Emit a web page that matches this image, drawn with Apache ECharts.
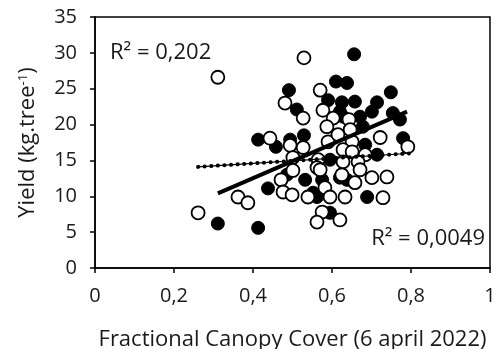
<!DOCTYPE html>
<html><head><meta charset="utf-8">
<script src="https://cdn.jsdelivr.net/npm/echarts@6/dist/echarts.min.js"></script>
<style>html,body{margin:0;padding:0;background:#fff}#c{width:498px;height:349px}</style>
</head><body><div id="c"></div>
<script>
// Filled circles (series 1) [fractional canopy cover, yield]
const filledPts = [
 [0.656,29.8],[0.610,26.0],[0.638,25.8],[0.491,24.8],[0.749,24.5],[0.590,23.4],[0.625,23.1],
 [0.658,23.2],[0.714,23.1],[0.511,22.1],[0.701,21.8],[0.754,21.6],[0.772,20.7],[0.628,21.1],
 [0.671,21.1],[0.678,19.7],[0.620,21.8],[0.529,18.5],[0.413,17.9],[0.458,16.9],[0.780,18.1],
 [0.714,15.8],[0.438,11.1],[0.532,12.3],[0.575,12.3],[0.562,9.9],[0.620,12.6],[0.595,7.7],
 [0.638,12.3],[0.689,9.9],[0.486,13.0],[0.311,6.2],[0.413,5.6],[0.552,10.5],[0.494,17.9],
 [0.633,16.5],[0.684,17.2],[0.595,15.1]
];
// Open circles (series 2)
const openPts = [
 [0.311,26.6],[0.529,29.3],[0.570,24.8],[0.481,23.0],[0.577,22.0],[0.527,20.9],[0.603,20.9],
 [0.643,20.7],[0.587,19.7],[0.646,19.3],[0.494,17.1],[0.527,16.8],[0.590,17.6],[0.615,18.6],
 [0.651,17.6],[0.722,18.2],[0.792,16.9],[0.628,16.5],[0.651,16.2],[0.684,15.8],[0.443,18.1],
 [0.565,15.1],[0.501,15.4],[0.666,14.8],[0.628,14.8],[0.501,13.6],[0.562,14.0],[0.471,12.3],
 [0.476,10.6],[0.499,10.2],[0.539,9.9],[0.582,11.2],[0.595,9.9],[0.575,7.8],[0.562,6.4],
 [0.620,6.7],[0.671,13.7],[0.701,12.6],[0.739,12.7],[0.658,11.9],[0.633,9.9],[0.729,9.8],
 [0.261,7.7],[0.362,9.9],[0.387,9.1],[0.570,13.7],[0.625,13.0]
];
// Trend lines (start / end)
const trendFilled = [[0.311,10.4],[0.79,21.8]];
const trendOpen = [[0.261,14.1],[0.80,16.0]];
const r2Labels = ['R² = 0,202','R² = 0,0049'];
const xTickLabels = ['0','0,2','0,4','0,6','0,8','1'];
const yTicks = [0,5,10,15,20,25,30,35];

const FONT = 'Open Sans';
const TXT = '#1a1a1a';
const chart = echarts.init(document.getElementById('c'), null, {renderer:'canvas'});
chart.setOption({
  animation:false,
  grid:{left:95,right:8,top:17,bottom:81,containLabel:false,outerBoundsMode:'none'},
  xAxis:{type:'value',min:0,max:1,interval:0.2,
    axisLine:{show:true,onZero:false,lineStyle:{color:'#000',width:1.5}},
    axisTick:{show:true,inside:false,length:5,lineStyle:{color:'#000',width:1.5}},
    splitLine:{show:false},
    axisLabel:{color:TXT,fontFamily:FONT,fontSize:20,margin:18,
      formatter:v=>xTickLabels[Math.round(v/0.2)]},
    name:'Fractional Canopy Cover (6 april 2022)',nameLocation:'middle',nameGap:61,
    nameTextStyle:{color:TXT,fontFamily:FONT,fontSize:22}
  },
  yAxis:{type:'value',min:0,max:35,interval:5,
    axisLine:{show:true,onZero:false,lineStyle:{color:'#000',width:1.5}},
    axisTick:{show:true,inside:false,length:5,lineStyle:{color:'#000',width:1.5}},
    splitLine:{show:false},
    axisLabel:{color:TXT,fontFamily:FONT,fontSize:20,margin:18,
      formatter:v=>String(yTicks[Math.round(v/5)])},
    name:'Yield (kg.tree{sup|-1})',nameLocation:'middle',nameGap:56,nameRotate:90,
    nameTextStyle:{color:TXT,fontFamily:FONT,fontSize:22,
      rich:{sup:{fontSize:13,fontFamily:FONT,color:TXT,verticalAlign:'top',lineHeight:22,padding:[0,0,8,0]}}}
  },
  series:[
    {type:'scatter',data:filledPts,symbol:'circle',symbolSize:13,z:2,
      itemStyle:{color:'#000',borderColor:'#000',borderWidth:1,opacity:1}},
    {type:'scatter',data:openPts,symbol:'circle',symbolSize:13,z:3,
      itemStyle:{color:'#fff',borderColor:'#000',borderWidth:1.8,opacity:1}},
    {type:'line',data:trendFilled,showSymbol:false,z:5,
      lineStyle:{color:'#000',width:4}},
    {type:'line',data:trendOpen,showSymbol:false,z:5,
      lineStyle:{color:'#000',width:1.2}},
    {type:'line',data:trendOpen,showSymbol:false,z:5,
      lineStyle:{color:'#000',width:4,type:[0.1,6.5],cap:'round'}}
  ]
});
// Plot-area frame located through the axes' own scales
const tl = chart.convertToPixel({gridIndex:0},[0,35]);
const br = chart.convertToPixel({gridIndex:0},[1,0]);
chart.setOption({graphic:[
  {type:'rect',z:100,silent:true,shape:{x:tl[0],y:tl[1],width:br[0]-tl[0],height:br[1]-tl[1]},
    style:{fill:'none',stroke:'#000',lineWidth:1.5}},
  {type:'text',x:110,y:53,z:101,style:{text:r2Labels[0],fill:TXT,font:'22px "Open Sans"',textVerticalAlign:'middle',verticalAlign:'middle'}},
  {type:'text',x:485,y:239,z:101,style:{text:r2Labels[1],fill:TXT,font:'22px "Open Sans"',align:'right',textAlign:'right',verticalAlign:'middle',textVerticalAlign:'middle'}}
]});
</script></body></html>
